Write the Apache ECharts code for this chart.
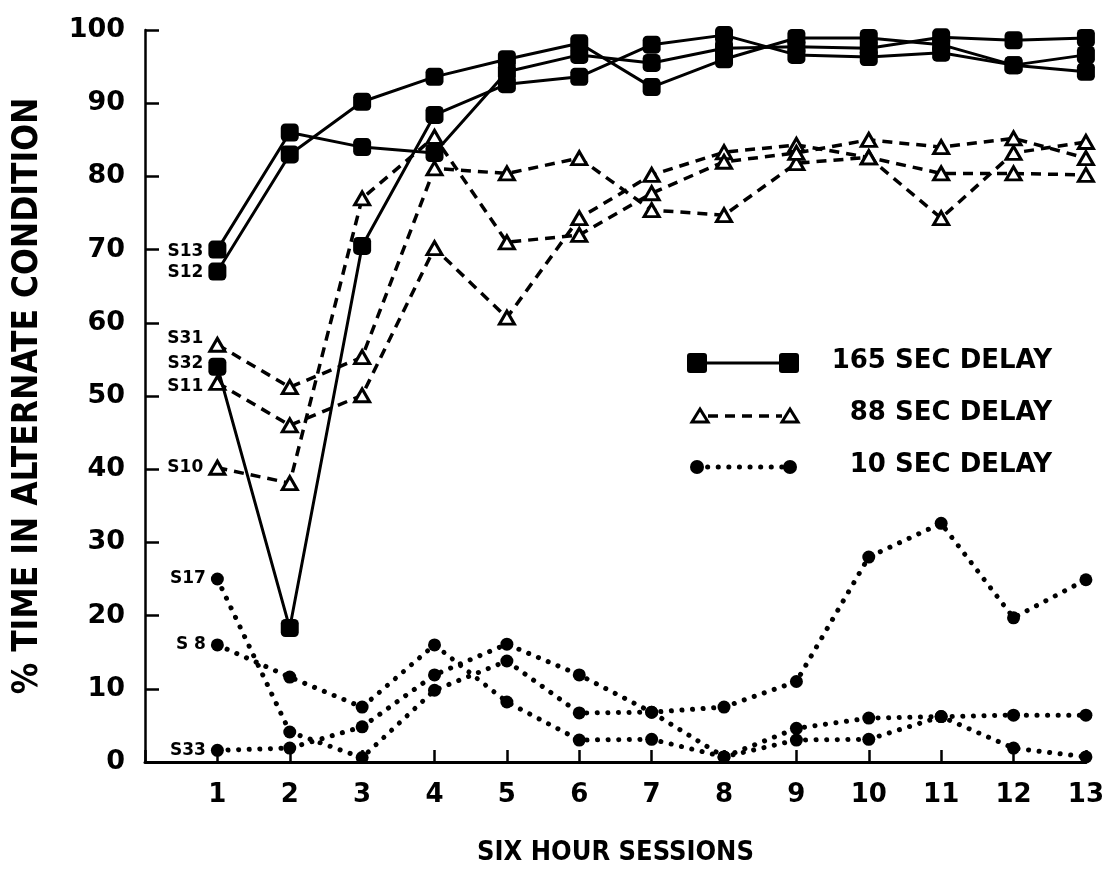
<!DOCTYPE html>
<html>
<head>
<meta charset="utf-8">
<script src="https://cdn.jsdelivr.net/npm/echarts@6/dist/echarts.min.js"></script>
<style>
  html, body { margin: 0; padding: 0; background: #fff; }
  #chart { width: 1107px; height: 890px; }
</style>
</head>
<body>
<div id="chart"></div>
<script>
// ---- data ----
const sessions = [1, 2, 3, 4, 5, 6, 7, 8, 9, 10, 11, 12, 13];
const yTicks = [0, 10, 20, 30, 40, 50, 60, 70, 80, 90, 100];

// 165 SEC DELAY (filled squares, solid line)
const s13 = [70, 86, 84, 83.2, 94.3, 96.6, 95.5, 97.5, 97.7, 97.5, 99, 98.6, 98.9];
const s12 = [67, 83, 90.2, 93.6, 96, 98.2, 92.2, 96, 98.9, 98.9, 98, 95.2, 96.6];
const s32 = [54, 18.3, 70.5, 88.4, 92.6, 93.6, 98, 99.3, 96.6, 96.3, 96.9, 95.2, 94.3];

// 88 SEC DELAY (open triangles, dashed line)
const s31 = [57, 51.2, 55.3, 81.1, 80.4, 82.5, 75.4, 74.7, 81.8, 82.6, 74.3, 83.2, 84.7];
const s11 = [51.8, 46, 50.1, 70.2, 60.7, 74.3, 80.2, 83.3, 84.3, 82.6, 80.4, 80.4, 80.2];
const s10 = [40.2, 38.1, 77, 85.4, 71, 72, 77.7, 82, 83.2, 85, 84, 85.2, 82.5];

// 10 SEC DELAY (filled circles, dotted line)
const s17 = [25, 4.1, 0.6, 9.8, 13.8, 6.7, 6.8, 7.5, 11, 28, 32.6, 19.7, 24.9];
const s8  = [16, 11.6, 7.5, 16, 8.2, 3, 3.1, 0.7, 3, 3.1, 6.2, 1.9, 0.7];
const s33 = [1.6, 1.9, 4.8, 11.9, 16.1, 11.9, 6.8, 0.7, 4.6, 6, 6.2, 6.4, 6.4];

const legendNames = ['165 SEC DELAY', '88 SEC DELAY', '10 SEC DELAY'];

// ---- build ----
const FONT = 'DejaVu Sans';
const FONT_C = '"DejaVu Sans Condensed", "DejaVu Sans"';

function pts(vals, subj, offset) {
  return sessions.map((x, i) => {
    if (i === 0) {
      return {
        value: [x, vals[i]],
        label: {
          show: true, position: 'left', distance: 5, formatter: subj,
          offset: offset || [0, 0],
          fontFamily: FONT, fontWeight: 'bold', fontSize: 17, color: '#000'
        }
      };
    }
    return [x, vals[i]];
  });
}

function squareSeries(vals, subj, off) {
  return {
    name: legendNames[0], type: 'line', data: pts(vals, subj, off),
    symbol: 'roundRect', symbolSize: 18, z: 4,
    itemStyle: { color: '#000' },
    lineStyle: { color: '#000', width: 3 },
    emphasis: { disabled: true }, animation: false
  };
}
function triSeries(vals, subj, off) {
  return {
    name: legendNames[1], type: 'line', data: pts(vals, subj, off),
    symbol: 'triangle', symbolSize: [15, 13], z: 3,
    itemStyle: { color: '#fff', borderColor: '#000', borderWidth: 3 },
    lineStyle: { color: '#000', width: 3.5, type: [10, 7] },
    emphasis: { disabled: true }, animation: false
  };
}
function dotSeries(vals, subj, off) {
  return {
    name: legendNames[2], type: 'line', data: pts(vals, subj, off),
    symbol: 'circle', symbolSize: 13, z: 2,
    itemStyle: { color: '#000' },
    lineStyle: { color: '#000', width: 5, type: [0.1, 10.5], cap: 'round' },
    emphasis: { disabled: true }, animation: false
  };
}

const chart = echarts.init(document.getElementById('chart'), null, { renderer: 'canvas' });

const option = {
  backgroundColor: '#fff',
  animation: false,
  grid: { left: 145, right: 20, top: 30, bottom: 128, containLabel: false },
  xAxis: {
    type: 'value', min: 0, max: 13, interval: 1,
    name: 'SIX HOUR SESSIONS', nameLocation: 'middle', nameGap: 77,
    nameTextStyle: { fontFamily: FONT_C, fontWeight: 'bold', fontSize: 27, color: '#000' },
    axisLine: { show: true, lineStyle: { color: '#000', width: 3 } },
    axisTick: { show: true, inside: true, length: 12, lineStyle: { color: '#000', width: 2.5 } },
    axisLabel: {
      margin: 20, fontFamily: FONT, fontWeight: 'bold', fontSize: 26, color: '#000',
      formatter: v => (sessions.indexOf(v) >= 0 ? String(v) : '')
    },
    splitLine: { show: false }
  },
  yAxis: {
    type: 'value', min: yTicks[0], max: yTicks[yTicks.length - 1], interval: 10,
    name: '% TIME IN ALTERNATE CONDITION', nameLocation: 'middle', nameGap: 100, nameRotate: 90,
    nameTextStyle: { fontFamily: FONT_C, fontWeight: 'bold', fontSize: 35, color: '#000' },
    axisLine: { show: true, lineStyle: { color: '#000', width: 2.5 } },
    axisTick: { show: true, inside: true, length: 14, lineStyle: { color: '#000', width: 2.5 } },
    axisLabel: { margin: 20, fontFamily: FONT, fontWeight: 'bold', fontSize: 27, color: '#000' },
    splitLine: { show: false }
  },
  series: [
    dotSeries(s17, 'S17'),
    dotSeries(s8, 'S 8'),
    dotSeries(s33, 'S33'),
    triSeries(s31, 'S31', [0, -6]),
    triSeries(s11, 'S11', [0, 4]),
    triSeries(s10, 'S10'),
    squareSeries(s13, 'S13', [0, 2]),
    squareSeries(s12, 'S12', [0, 1]),
    squareSeries(s32, 'S32', [0, -3])
  ],
  graphic: [
    // legend row 1
    { type: 'line', shape: { x1: 697, y1: 363, x2: 789, y2: 363 }, style: { stroke: '#000', lineWidth: 3 } },
    { type: 'rect', shape: { x: 687, y: 353, width: 20, height: 20, r: 3 }, style: { fill: '#000' } },
    { type: 'rect', shape: { x: 779, y: 353, width: 20, height: 20, r: 3 }, style: { fill: '#000' } },
    { type: 'text', right: 1107 - 1052, top: 348, style: { text: legendNames[0], fill: '#000', font: 'bold 26px "DejaVu Sans"' } },
    // legend row 2
    { type: 'line', shape: { x1: 708, y1: 416, x2: 782, y2: 416 }, style: { stroke: '#000', lineWidth: 3.5, lineDash: [10, 7] } },
    { type: 'polygon', shape: { points: [[700, 409], [708, 422], [692, 422]] }, style: { fill: '#fff', stroke: '#000', lineWidth: 3 } },
    { type: 'polygon', shape: { points: [[790, 409], [798, 422], [782, 422]] }, style: { fill: '#fff', stroke: '#000', lineWidth: 3 } },
    { type: 'text', right: 1107 - 1052, top: 400, style: { text: legendNames[1], fill: '#000', font: 'bold 26px "DejaVu Sans"' } },
    // legend row 3
    { type: 'line', shape: { x1: 697, y1: 467, x2: 790, y2: 467 }, style: { stroke: '#000', lineWidth: 5, lineDash: [0.1, 10.5], lineCap: 'round' } },
    { type: 'circle', shape: { cx: 697, cy: 467, r: 7 }, style: { fill: '#000' } },
    { type: 'circle', shape: { cx: 790, cy: 467, r: 7 }, style: { fill: '#000' } },
    { type: 'text', right: 1107 - 1052, top: 452, style: { text: legendNames[2], fill: '#000', font: 'bold 26px "DejaVu Sans"' } }
  ]
};
chart.setOption(option);
</script>
</body>
</html>
